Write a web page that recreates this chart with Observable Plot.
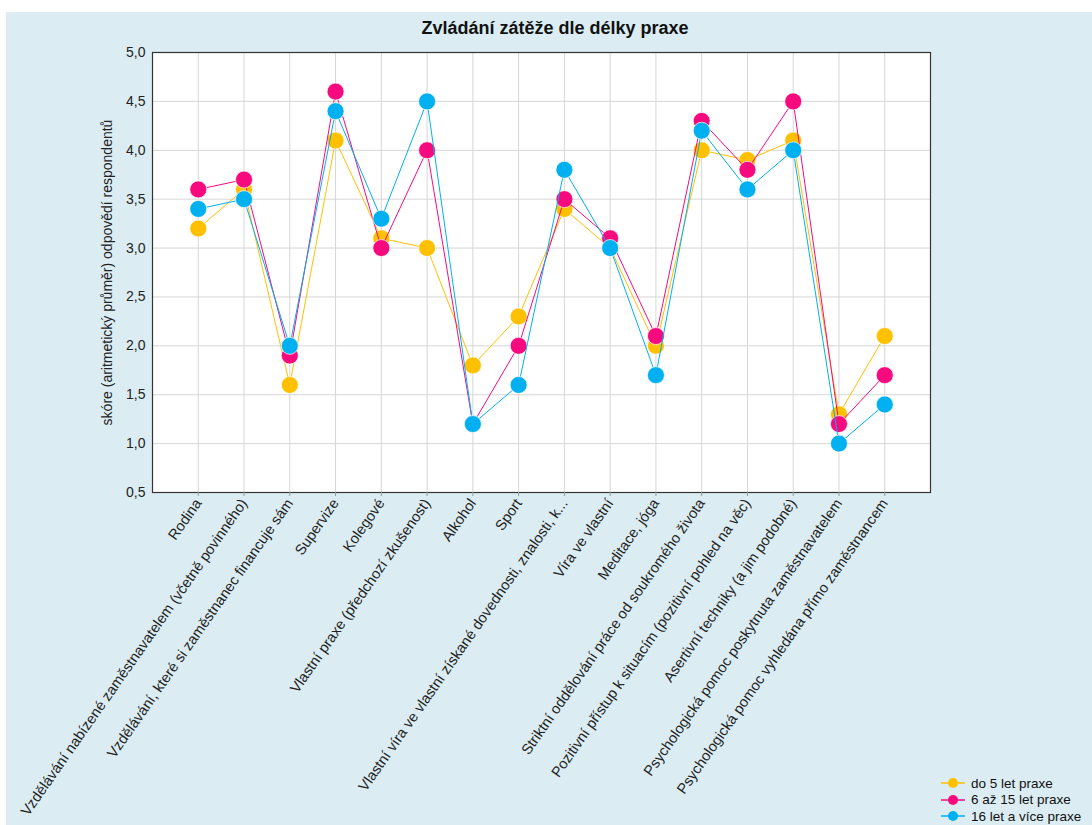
<!DOCTYPE html>
<html><head><meta charset="utf-8">
<script src="https://cdn.jsdelivr.net/npm/d3@7"></script>
<script src="https://cdn.jsdelivr.net/npm/@observablehq/plot@0.6"></script>
<style>
html,body{margin:0;padding:0;background:#fff;width:1092px;height:825px;overflow:hidden;}
#bg{position:absolute;left:6px;top:12px;width:1086px;height:813px;background:#dbedf3;}
#chart{position:absolute;left:0;top:0;}
#title{position:absolute;left:355px;width:400px;top:18px;text-align:center;font:bold 18px "Liberation Sans",Arial,sans-serif;color:#111;}
#legend{position:absolute;left:941px;top:775px;font:13.5px "Liberation Sans",Arial,sans-serif;color:#111;white-space:nowrap;}
#legend .row{height:16.5px;display:flex;align-items:center;}
#legend svg{margin-right:6px;}
</style>
</head><body>
<div id="bg"></div>
<div id="chart"></div>
<div id="title">Zvládání zátěže dle délky praxe</div>
<div id="legend"></div>
<script>
const categories = [
  "Rodina",
  "Vzdělávání nabízené zaměstnavatelem (včetně povinného)",
  "Vzdělávání, které si zaměstnanec financuje sám",
  "Supervize",
  "Kolegové",
  "Vlastní praxe (předchozí zkušenost)",
  "Alkohol",
  "Sport",
  "Vlastní víra ve vlastní získané dovednosti, znalosti, k...",
  "Víra ve vlastní",
  "Meditace, jóga",
  "Striktní oddělování práce od soukromého života",
  "Pozitivní přístup k situacím (pozitivní pohled na věc)",
  "Asertivní techniky (a jim podobné)",
  "Psychologická pomoc poskytnuta zaměstnavatelem",
  "Psychologická pomoc vyhledána přímo zaměstnancem"
];
const do5 =  [3.2, 3.6, 1.6, 4.1, 3.1, 3.0, 1.8, 2.3, 3.4, 3.0, 2.0, 4.0, 3.9, 4.1, 1.3, 2.1];
const az15 = [3.6, 3.7, 1.9, 4.6, 3.0, 4.0, 1.2, 2.0, 3.5, 3.1, 2.1, 4.3, 3.8, 4.5, 1.2, 1.7];
const nad16 =[3.4, 3.5, 2.0, 4.4, 3.3, 4.5, 1.2, 1.6, 3.8, 3.0, 1.7, 4.2, 3.6, 4.0, 1.0, 1.4];
const seriesNames = ["do 5 let praxe", "6 až 15 let praxe", "16 let a více praxe"];
const seriesColors = ["#ffc000", "#f70a7d", "#00b0f0"];
const yTicks = [0.5, 1.0, 1.5, 2.0, 2.5, 3.0, 3.5, 4.0, 4.5, 5.0];
const yLabel = "skóre (aritmetický průměr) odpovědí respondentů";

const seriesValues = [do5, az15, nad16];
const rows = [];
seriesValues.forEach((vals, s) => vals.forEach((v, i) => rows.push({cat: categories[i], value: v, series: seriesNames[s]})));

const fmt = v => d3.format(".1f")(v).replace(".", ",");

const seriesMarks = [];
seriesNames.forEach(name => {
  const data = rows.filter(r => r.series === name);
  seriesMarks.push(Plot.line(data, {x: "cat", y: "value", stroke: "series", strokeWidth: 1}));
  seriesMarks.push(Plot.dot(data, {x: "cat", y: "value", fill: "series", r: 8.5, stroke: "white", strokeWidth: 1, strokeOpacity: 0.7}));
});

const plot = Plot.plot({
  width: 1092, height: 825,
  marginLeft: 152, marginRight: 162, marginTop: 52, marginBottom: 333,
  style: {background: "transparent", fontFamily: "'Liberation Sans', Arial, sans-serif", fontSize: "14px", color: "#222", overflow: "visible"},
  x: {type: "point", domain: categories, padding: 1, round: false},
  y: {domain: [0.5, 5]},
  color: {domain: seriesNames, range: seriesColors},
  marks: [
    Plot.frame({fill: "white"}),
    Plot.gridX(categories, {stroke: "#d6d6d6", strokeOpacity: 1}),
    Plot.gridY(yTicks, {stroke: "#d6d6d6", strokeOpacity: 1}),
    Plot.frame({stroke: "#333", strokeWidth: 1.2}),
    Plot.axisX({tickRotate: -55, tickSize: 4, tickPadding: 4, label: null, stroke: "#999", fontSize: 14.6}),
    Plot.axisY(yTicks, {tickFormat: fmt, tickSize: 0, tickPadding: 7, label: yLabel, labelAnchor: "center", labelOffset: 50, labelArrow: "none"}),
    ...seriesMarks
  ]
});
document.getElementById("chart").appendChild(plot);

const legend = document.getElementById("legend");
seriesNames.forEach((name, i) => {
  const row = document.createElement("div");
  row.className = "row";
  row.innerHTML = `<svg width="24" height="14"><line x1="0" x2="24" y1="7" y2="7" stroke="${seriesColors[i]}" stroke-width="1.5"/><circle cx="12" cy="7" r="5" fill="${seriesColors[i]}"/></svg><span>${name}</span>`;
  legend.appendChild(row);
});
</script>
</body></html>
